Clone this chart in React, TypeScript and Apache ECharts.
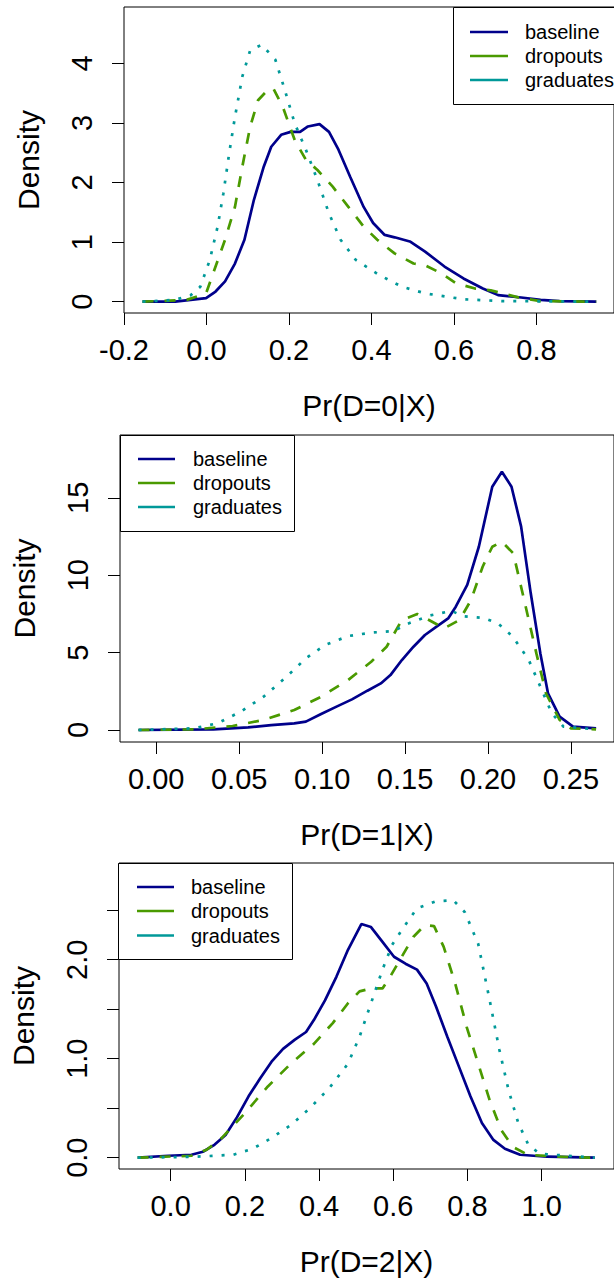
import React, { useEffect, useRef } from "react";
import * as echarts from "echarts";

const FONT = '"Liberation Sans", Arial, Helvetica, sans-serif';
const C_BASE = "#00008B";
const C_DROP = "#4A9A00";
const C_GRAD = "#009999";

const seriesNames = ["baseline", "dropouts", "graduates"];

// Panel 1: Pr(D=0|X)
const p1XTicks = [-0.2, 0, 0.2, 0.4, 0.6, 0.8];
const p1YTicks = [0, 1, 2, 3, 4];
const p1Baseline = [[-0.155,0],[-0.076,0],[-0.001,0.06],[0.022,0.17],[0.045,0.34],[0.069,0.64],[0.092,1.04],[0.115,1.71],[0.139,2.27],[0.157,2.6],[0.181,2.8],[0.204,2.85],[0.227,2.85],[0.246,2.94],[0.274,2.98],[0.297,2.85],[0.32,2.55],[0.348,2.1],[0.381,1.59],[0.404,1.32],[0.432,1.12],[0.456,1.08],[0.493,1.01],[0.53,0.84],[0.577,0.59],[0.623,0.39],[0.67,0.22],[0.707,0.11],[0.763,0.07],[0.81,0.03],[0.856,0.01],[0.945,0]];
const p1Dropouts = [[-0.155,0],[-0.048,0.03],[-0.001,0.14],[0.022,0.59],[0.045,1.04],[0.069,1.59],[0.087,2.27],[0.106,2.94],[0.125,3.38],[0.148,3.55],[0.162,3.58],[0.185,3.27],[0.214,2.71],[0.241,2.38],[0.269,2.21],[0.306,1.93],[0.344,1.59],[0.381,1.26],[0.414,1.04],[0.456,0.81],[0.502,0.64],[0.53,0.61],[0.568,0.48],[0.605,0.31],[0.651,0.22],[0.689,0.19],[0.717,0.14],[0.763,0.06],[0.81,0.01],[0.945,0]];
const p1Graduates = [[-0.155,0],[-0.076,0.03],[-0.038,0.11],[-0.015,0.25],[0.008,0.7],[0.027,1.26],[0.041,1.82],[0.055,2.49],[0.069,3.1],[0.087,3.78],[0.106,4.22],[0.134,4.31],[0.167,4.06],[0.19,3.55],[0.214,2.99],[0.241,2.55],[0.269,2.04],[0.297,1.48],[0.325,1.04],[0.362,0.7],[0.418,0.45],[0.474,0.25],[0.53,0.14],[0.623,0.04],[0.717,0.01],[0.945,0]];

// Panel 2: Pr(D=1|X)
const p2XTicks = [0, 0.05, 0.1, 0.15, 0.2, 0.25];
const p2YTicks = [0, 5, 10, 15];
const p2Baseline = [[-0.0107,0],[0.0345,0.04],[0.0554,0.17],[0.0693,0.32],[0.0832,0.43],[0.0902,0.54],[0.0994,1.03],[0.1087,1.51],[0.118,1.98],[0.1273,2.54],[0.1354,3.01],[0.1412,3.55],[0.1481,4.52],[0.1551,5.38],[0.162,6.14],[0.169,6.68],[0.176,7.21],[0.1806,7.97],[0.1875,9.37],[0.1945,11.84],[0.2026,15.72],[0.2084,16.69],[0.2142,15.72],[0.22,13.14],[0.2258,8.83],[0.2316,4.95],[0.2362,2.37],[0.2432,0.86],[0.2513,0.22],[0.2652,0.11]];
const p2Dropouts = [[-0.0107,0],[0.023,0.04],[0.046,0.26],[0.0647,0.65],[0.0832,1.29],[0.0994,2.15],[0.1157,3.23],[0.1296,4.41],[0.1389,5.38],[0.1481,7.11],[0.1574,7.49],[0.1644,7.11],[0.1736,6.57],[0.1829,7.11],[0.1898,8.4],[0.1968,10.55],[0.2026,11.84],[0.2084,12.17],[0.2153,11.41],[0.2223,8.18],[0.2292,4.95],[0.235,2.37],[0.2432,0.65],[0.25,0.11],[0.2652,0.04]];
const p2Graduates = [[-0.0107,0],[0.023,0.11],[0.0369,0.43],[0.0508,1.18],[0.0647,2.15],[0.0786,3.45],[0.0902,4.63],[0.1018,5.49],[0.1157,6.07],[0.1296,6.29],[0.1435,6.4],[0.15,6.8],[0.1574,7.1],[0.165,7.4],[0.178,7.7],[0.185,7.35],[0.197,7.25],[0.206,6.89],[0.215,6.03],[0.2246,4.52],[0.2316,2.8],[0.2385,1.08],[0.2455,0.22],[0.265,0.04]];

// Panel 3: Pr(D=2|X)
const p3XTicks = [0, 0.2, 0.4, 0.6, 0.8, 1.0];
const p3YTicks = [0, 0.5, 1, 1.5, 2, 2.5];
const p3YLabels = [0, 1, 2];
const p3Baseline = [[-0.0887,0],[-0.006,0.02],[0.056,0.03],[0.087,0.06],[0.118,0.13],[0.148,0.23],[0.179,0.41],[0.21,0.62],[0.241,0.8],[0.272,0.97],[0.303,1.1],[0.334,1.19],[0.365,1.27],[0.386,1.39],[0.416,1.59],[0.447,1.83],[0.478,2.1],[0.514,2.36],[0.54,2.33],[0.571,2.18],[0.602,2.03],[0.633,1.96],[0.664,1.9],[0.69,1.76],[0.715,1.53],[0.746,1.22],[0.777,0.92],[0.808,0.62],[0.839,0.35],[0.87,0.18],[0.901,0.09],[0.942,0.03],[1.014,0.01],[1.143,0]];
const p3Dropouts = [[-0.089,0],[0.056,0.02],[0.097,0.08],[0.138,0.2],[0.2,0.45],[0.262,0.72],[0.324,0.95],[0.386,1.15],[0.437,1.36],[0.478,1.56],[0.509,1.68],[0.54,1.71],[0.571,1.71],[0.592,1.83],[0.623,2.03],[0.654,2.23],[0.685,2.35],[0.71,2.34],[0.736,2.13],[0.767,1.76],[0.798,1.32],[0.829,0.95],[0.86,0.58],[0.891,0.28],[0.922,0.11],[0.963,0.03],[1.045,0.01],[1.143,0]];
const p3Graduates = [[-0.089,0],[0.066,0.01],[0.169,0.03],[0.221,0.09],[0.272,0.2],[0.324,0.33],[0.375,0.5],[0.427,0.7],[0.478,0.95],[0.509,1.22],[0.54,1.56],[0.571,1.9],[0.597,2.15],[0.623,2.3],[0.664,2.52],[0.715,2.59],[0.762,2.6],[0.793,2.48],[0.829,2.16],[0.86,1.59],[0.886,1.09],[0.911,0.68],[0.937,0.35],[0.963,0.14],[0.994,0.04],[1.143,0]];

const xTitles = ["Pr(D=0|X)", "Pr(D=1|X)", "Pr(D=2|X)"];
const yTitle = "Density";

function App() {
  const ref = useRef<HTMLDivElement>(null);
  useEffect(() => {
    if (!ref.current) return;
    const chart = echarts.init(ref.current, null, { renderer: "svg" });

    const grids = [
      { left: 124, top: 7, width: 499, height: 306 },
      { left: 120, top: 435, width: 504, height: 307 },
      { left: 118, top: 863, width: 505, height: 306 },
    ];
    const xRanges = [[-0.2, 0.988], [-0.02187, 0.276], [-0.1392, 1.195]];
    const yRanges = [[-0.19, 4.945], [-0.775, 19.06], [-0.114, 2.977]];
    const xTicks = [p1XTicks, p2XTicks, p3XTicks];
    const yTicks = [p1YTicks, p2YTicks, p3YTicks];
    const yLabelVals = [p1YTicks, p2YTicks, p3YLabels];
    const xDec = [1, 2, 1];
    const yDec = [0, 0, 1];
    const data = [
      [p1Baseline, p1Dropouts, p1Graduates],
      [p2Baseline, p2Dropouts, p2Graduates],
      [p3Baseline, p3Dropouts, p3Graduates],
    ];
    const colors = [C_BASE, C_DROP, C_GRAD];
    const dashes: any[] = ["solid", [11, 11], [3, 9]];

    const tickStyle = { color: "#000", width: 1 };
    const xAxis = grids.map((g, i) => ({
      type: "value",
      gridIndex: i,
      position: "bottom",
      min: xRanges[i][0],
      max: xRanges[i][1],
      axisLine: { show: false, onZero: false },
      splitLine: { show: false },
      axisTick: { show: true, inside: false, length: 12, customValues: xTicks[i], lineStyle: tickStyle },
      axisLabel: {
        customValues: xTicks[i],
        formatter: (v: number) => v.toFixed(xDec[i]),
        fontSize: 29,
        fontFamily: FONT,
        color: "#000",
        margin: 22,
      },
      name: xTitles[i],
      nameLocation: "middle",
      nameGap: 77,
      nameTextStyle: { fontSize: 30, fontFamily: FONT, color: "#000" },
    }));
    const yAxis = grids.map((g, i) => ({
      type: "value",
      gridIndex: i,
      position: "left",
      min: yRanges[i][0],
      max: yRanges[i][1],
      axisLine: { show: false, onZero: false },
      splitLine: { show: false },
      axisTick: { show: true, inside: false, length: 12, customValues: yTicks[i], lineStyle: tickStyle },
      axisLabel: {
        customValues: yLabelVals[i],
        formatter: (v: number) => v.toFixed(yDec[i]),
        fontSize: 29,
        fontFamily: FONT,
        color: "#000",
        rotate: 90,
        margin: 28,
      },
      name: yTitle,
      nameLocation: "middle",
      nameGap: 81,
      nameTextStyle: { fontSize: 30, fontFamily: FONT, color: "#000" },
    }));

    const series: any[] = [];
    data.forEach((panel, i) => {
      panel.forEach((d, k) => {
        series.push({
          type: "line",
          name: seriesNames[k],
          xAxisIndex: i,
          yAxisIndex: i,
          data: d,
          showSymbol: false,
          symbol: "none",
          smooth: false,
          lineStyle: { color: colors[k], width: 2.7, type: dashes[k], cap: "butt" },
          z: 2 + k,
        });
      });
    });

    const legends = [
      { x: 453, y: 7, w: 200, h: 97, lx0: 470, lx1: 508, tx: 525, rows: [32, 56, 80] },
      { x: 120, y: 435, w: 174, h: 96, lx0: 138, lx1: 175, tx: 193, rows: [459, 483, 507] },
      { x: 118, y: 863, w: 174, h: 96, lx0: 137, lx1: 174, tx: 191, rows: [887, 911, 935.5] },
    ];
    const graphic: any[] = [];
    legends.forEach((L) => {
      graphic.push({
        type: "rect",
        z: 100,
        shape: { x: L.x + 0.5, y: L.y + 0.5, width: L.w, height: L.h },
        style: { fill: "#fff", stroke: "#000", lineWidth: 1 },
      });
      L.rows.forEach((ry, k) => {
        graphic.push({
          type: "line",
          z: 101,
          shape: { x1: L.lx0, y1: ry, x2: L.lx1, y2: ry },
          style: { stroke: colors[k], lineWidth: 2.7 },
        });
        graphic.push({
          type: "text",
          z: 101,
          x: L.tx,
          y: ry,
          style: {
            text: seriesNames[k],
            fontSize: 20,
            fontFamily: FONT,
            fill: "#000",
            verticalAlign: "middle",
            align: "left",
          },
        });
      });
    });

    chart.setOption({
      animation: false,
      backgroundColor: "#fff",
      grid: grids.map((g) => ({ ...g, show: true, borderColor: "#000", borderWidth: 1, backgroundColor: "transparent", containLabel: false })),
      xAxis,
      yAxis,
      series,
      graphic,
    });
    return () => chart.dispose();
  }, []);
  return (
    <div
      ref={ref}
      style={{ position: "absolute", left: 0, top: 0, width: 614, height: 1283, background: "#fff" }}
    />
  );
}

export default App;
